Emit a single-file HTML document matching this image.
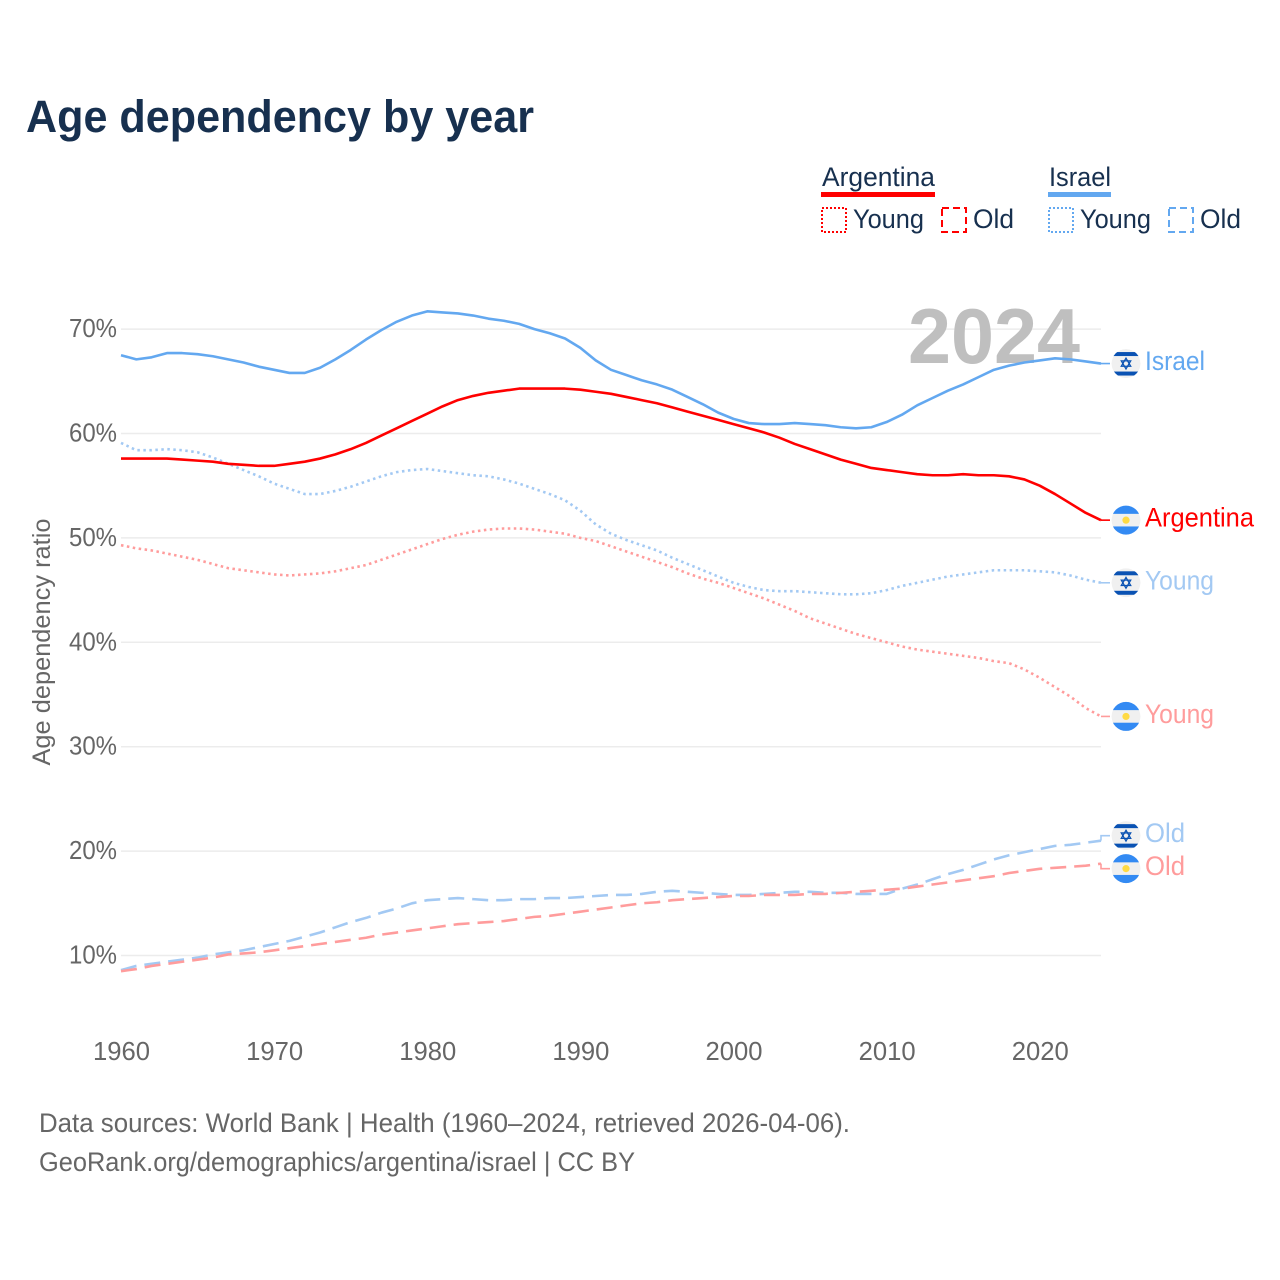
<!DOCTYPE html>
<html lang="en">
<head>
<meta charset="utf-8">
<title>Age dependency by year</title>
<style>
html,body{margin:0;padding:0;background:#fff}
svg{display:block}
text{font-family:"Liberation Sans",Arial,sans-serif}
</style>
</head>
<body>
<svg id="chart" xmlns="http://www.w3.org/2000/svg" width="1280" height="1280" viewBox="0 0 1280 1280">
  <defs>
    <clipPath id="flag-clip"><circle cx="0" cy="0" r="14.5"></circle></clipPath>
  </defs>
  <rect x="0" y="0" width="1280" height="1280" fill="#ffffff"></rect>
  <text x="26" y="132" font-size="45" font-weight="700" fill="#17304f" textLength="508" lengthAdjust="spacingAndGlyphs">Age dependency by year</text>

  <g>
    <text x="822" y="186" font-size="27" fill="#17304f" textLength="113" lengthAdjust="spacingAndGlyphs">Argentina</text>
    <rect x="821" y="192" width="114" height="5" fill="#ff0000"></rect>
    <text x="1049" y="186" font-size="27" fill="#17304f" textLength="62" lengthAdjust="spacingAndGlyphs">Israel</text>
    <rect x="1048" y="192" width="63" height="5" fill="#63a8f0"></rect>

    <rect x="822" y="208" width="24" height="24" fill="none" stroke="#ff0000" stroke-width="2" stroke-dasharray="2 2"></rect>
    <text x="853" y="228" font-size="27" fill="#17304f" textLength="71" lengthAdjust="spacingAndGlyphs">Young</text>
    <rect x="942" y="208" width="24" height="24" fill="none" stroke="#ff0000" stroke-width="2" stroke-dasharray="7 4"></rect>
    <text x="973" y="228" font-size="27" fill="#17304f" textLength="41" lengthAdjust="spacingAndGlyphs">Old</text>

    <rect x="1049" y="208" width="24" height="24" fill="none" stroke="#63a8f0" stroke-width="2" stroke-dasharray="2 2"></rect>
    <text x="1080" y="228" font-size="27" fill="#17304f" textLength="71" lengthAdjust="spacingAndGlyphs">Young</text>
    <rect x="1169" y="208" width="24" height="24" fill="none" stroke="#63a8f0" stroke-width="2" stroke-dasharray="7 4"></rect>
    <text x="1200" y="228" font-size="27" fill="#17304f" textLength="41" lengthAdjust="spacingAndGlyphs">Old</text>
  </g>

  <g id="grid"></g>
  <g id="y-ticks"></g>
  <g id="x-ticks"></g>

  <text x="908" y="363" font-size="78" font-weight="700" fill="#bfbfbf" textLength="172" lengthAdjust="spacingAndGlyphs">2024</text>

  <g id="series"></g>
  <g id="end-labels"></g>

  <text transform="translate(50,642) rotate(-90)" x="0" y="0" font-size="25" fill="#666666" text-anchor="middle" textLength="247" lengthAdjust="spacingAndGlyphs">Age dependency ratio</text>

  <text x="39" y="1132" font-size="27" fill="#666666" textLength="811" lengthAdjust="spacingAndGlyphs">Data sources: World Bank | Health (1960–2024, retrieved 2026-04-06).</text>
  <text x="39" y="1171" font-size="27" fill="#666666" textLength="596" lengthAdjust="spacingAndGlyphs">GeoRank.org/demographics/argentina/israel | CC BY</text>
</svg>

<script>
const startYear = 1960;
const yTickValues = [10, 20, 30, 40, 50, 60, 70];
const xTickYears = [1960, 1970, 1980, 1990, 2000, 2010, 2020];

const israelTotal = [
  67.5,67.1,67.3,67.7,67.7,67.6,67.4,67.1,66.8,66.4,
  66.1,65.8,65.8,66.3,67.1,68.0,69.0,69.9,70.7,71.3,
  71.7,71.6,71.5,71.3,71.0,70.8,70.5,70.0,69.6,69.1,
  68.2,67.0,66.1,65.6,65.1,64.7,64.2,63.5,62.8,62.0,
  61.4,61.0,60.9,60.9,61.0,60.9,60.8,60.6,60.5,60.6,
  61.1,61.8,62.7,63.4,64.1,64.7,65.4,66.1,66.5,66.8,
  67.0,67.2,67.1,66.9,66.7];
const argentinaTotal = [
  57.6,57.6,57.6,57.6,57.5,57.4,57.3,57.1,57.0,56.9,
  56.9,57.1,57.3,57.6,58.0,58.5,59.1,59.8,60.5,61.2,
  61.9,62.6,63.2,63.6,63.9,64.1,64.3,64.3,64.3,64.3,
  64.2,64.0,63.8,63.5,63.2,62.9,62.5,62.1,61.7,61.3,
  60.9,60.5,60.1,59.6,59.0,58.5,58.0,57.5,57.1,56.7,
  56.5,56.3,56.1,56.0,56.0,56.1,56.0,56.0,55.9,55.6,
  55.0,54.2,53.3,52.4,51.7];
const israelYoung = [
  59.1,58.4,58.4,58.5,58.4,58.2,57.7,57.1,56.5,55.9,
  55.2,54.7,54.2,54.2,54.5,54.9,55.4,55.9,56.3,56.5,
  56.6,56.4,56.2,56.0,55.9,55.6,55.2,54.7,54.2,53.6,
  52.6,51.3,50.4,49.8,49.3,48.8,48.1,47.5,46.9,46.3,
  45.7,45.3,45.0,44.9,44.9,44.8,44.7,44.6,44.6,44.7,
  45.0,45.4,45.7,46.0,46.3,46.5,46.7,46.9,46.9,46.9,
  46.8,46.7,46.4,46.0,45.7];
const argentinaYoung = [
  49.3,49.0,48.8,48.5,48.2,47.9,47.5,47.1,46.9,46.7,
  46.5,46.4,46.5,46.6,46.8,47.1,47.4,47.9,48.4,48.9,
  49.4,49.9,50.3,50.6,50.8,50.9,50.9,50.8,50.6,50.4,
  50.0,49.7,49.2,48.7,48.2,47.7,47.2,46.6,46.1,45.7,
  45.2,44.7,44.2,43.6,43.0,42.3,41.8,41.3,40.8,40.4,
  40.0,39.6,39.3,39.1,38.9,38.7,38.5,38.2,38.0,37.4,
  36.6,35.7,34.8,33.7,32.9];
const israelOld = [
  8.6,9.0,9.2,9.4,9.6,9.8,10.1,10.3,10.5,10.8,
  11.1,11.4,11.8,12.2,12.7,13.2,13.6,14.1,14.5,15.0,
  15.3,15.4,15.5,15.4,15.3,15.3,15.4,15.4,15.5,15.5,
  15.6,15.7,15.8,15.8,15.9,16.1,16.2,16.1,16.0,15.9,
  15.8,15.8,15.9,16.0,16.1,16.1,16.0,16.0,15.9,15.9,
  15.9,16.4,16.8,17.3,17.8,18.2,18.7,19.2,19.6,19.9,
  20.2,20.5,20.6,20.8,21.0];
const argentinaOld = [
  8.5,8.7,9.0,9.2,9.4,9.6,9.8,10.1,10.2,10.3,
  10.5,10.7,10.9,11.1,11.3,11.5,11.7,12.0,12.2,12.4,
  12.6,12.8,13.0,13.1,13.2,13.3,13.5,13.7,13.8,14.0,
  14.2,14.4,14.6,14.8,15.0,15.1,15.3,15.4,15.5,15.6,
  15.7,15.7,15.8,15.8,15.8,15.9,15.9,16.0,16.1,16.2,
  16.3,16.4,16.6,16.8,17.0,17.2,17.4,17.6,17.9,18.1,
  18.3,18.4,18.5,18.6,18.8];

const NS = 'http://www.w3.org/2000/svg';
const plotLeft = 121, plotRight = 1101;
const yearSpan = 64;
function xScale(year) { return plotLeft + (year - startYear) * (plotRight - plotLeft) / yearSpan; }
function yScale(v) { return 955.5 - (v - 10) * 10.44; }

function make(tag, attrs, parent) {
  const el = document.createElementNS(NS, tag);
  Object.keys(attrs).forEach(function (k) { el.setAttribute(k, attrs[k]); });
  parent.appendChild(el);
  return el;
}

const gridG = document.getElementById('grid');
const yTickG = document.getElementById('y-ticks');
yTickValues.forEach(function (v) {
  const line = make('line', { x1: plotLeft, x2: plotRight, y1: yScale(v), y2: yScale(v), stroke: '#ececec', 'stroke-width': 1.5 }, gridG);
  
  
  const t = make('text', { x: 117, y: yScale(v) + 8, 'font-size': 26, fill: '#666666', 'text-anchor': 'end', textLength: 48, lengthAdjust: 'spacingAndGlyphs' }, yTickG);
  t.textContent = v + '%';
  
  
});

const xTickG = document.getElementById('x-ticks');
xTickYears.forEach(function (yr) {
  const t = make('text', { x: xScale(yr) + 0.5, y: 1060, 'font-size': 26, fill: '#666666', 'text-anchor': 'middle', textLength: 57, lengthAdjust: 'spacingAndGlyphs' }, xTickG);
  t.textContent = String(yr);
  
  
});

const seriesList = [
  { id: 'israel-old', values: israelOld, color: '#a3c9f3', dash: '16 8', label: 'Old', flag: 'il', w: 40 },
  { id: 'argentina-old', values: argentinaOld, color: '#ff9c9c', dash: '16 8', label: 'Old', flag: 'ar', w: 40 },
  { id: 'israel-young', values: israelYoung, color: '#a3c9f3', dash: '2.5 3.5', label: 'Young', flag: 'il', w: 69 },
  { id: 'argentina-young', values: argentinaYoung, color: '#ff9c9c', dash: '2.5 3.5', label: 'Young', flag: 'ar', w: 69 },
  { id: 'israel-total', values: israelTotal, color: '#63a8f0', dash: '', label: 'Israel', flag: 'il', w: 60 },
  { id: 'argentina-total', values: argentinaTotal, color: '#ff0000', dash: '', label: 'Argentina', flag: 'ar', w: 109 }
];

/* Series end positions, pushed apart so flags do not overlap */
const minGap = 33;
const ends = seriesList.map(function (s) {
  const y = yScale(s.values[s.values.length - 1]);
  return { s: s, y: y, fy: y };
}).sort(function (a, b) { return a.y - b.y; });
for (let pass = 0; pass < 20; pass++) {
  for (let i = 1; i < ends.length; i++) {
    const gap = ends[i].fy - ends[i - 1].fy;
    if (gap < minGap) {
      const push = (minGap - gap) / 2;
      ends[i].fy += push;
      ends[i - 1].fy -= push;
    }
  }
}

const seriesG = document.getElementById('series');
const labelG = document.getElementById('end-labels');

seriesList.forEach(function (s) {
  const d = s.values.map(function (v, i) {
    return (i ? 'L' : 'M') + xScale(startYear + i).toFixed(2) + ' ' + yScale(v).toFixed(2);
  }).join(' ');
  const p = make('path', { d: d, fill: 'none', stroke: s.color, 'stroke-width': 2.6, 'stroke-linejoin': 'round' }, seriesG);
  if (s.dash) p.setAttribute('stroke-dasharray', s.dash);
  
  
});

function drawFlag(group, kind) {
  const clip = make('g', { 'clip-path': 'url(#flag-clip)' }, group);
  make('circle', { cx: 0, cy: 0, r: 14.5, fill: '#f0f0f0' }, clip);
  if (kind === 'ar') {
    make('rect', { x: -15, y: -15, width: 30, height: 8.7, fill: '#338af3' }, clip);
    make('rect', { x: -15, y: 6.3, width: 30, height: 8.7, fill: '#338af3' }, clip);
    make('circle', { cx: 0, cy: 0, r: 3.6, fill: '#ffda44' }, clip);
  } else {
    make('rect', { x: -15, y: -11.5, width: 30, height: 4, fill: '#0a52b3' }, clip);
    make('rect', { x: -15, y: 8, width: 30, height: 4, fill: '#0a52b3' }, clip);
    make('polygon', { points: '0,-5.4 4.7,2.7 -4.7,2.7', fill: 'none', stroke: '#0a52b3', 'stroke-width': 1.3 }, clip);
    make('polygon', { points: '0,5.4 4.7,-2.7 -4.7,-2.7', fill: 'none', stroke: '#0a52b3', 'stroke-width': 1.3 }, clip);
  }
}

ends.forEach(function (e) {
  const s = e.s;
  const conn = make('path', {
    d: 'M' + plotRight + ' ' + e.y.toFixed(2) + ' L' + plotRight + ' ' + e.fy.toFixed(2) + ' L1110 ' + e.fy.toFixed(2),
    fill: 'none', stroke: s.color, 'stroke-width': 1.6
  }, labelG);
  
  

  const flag = make('g', { transform: 'translate(1126,' + e.fy.toFixed(2) + ')' }, labelG);
  
  
  drawFlag(flag, s.flag);

  const t = make('text', { x: 1145, y: (e.fy + 6.5).toFixed(2), 'font-size': 27, fill: s.color, textLength: s.w, lengthAdjust: 'spacingAndGlyphs' }, labelG);
  t.textContent = s.label;
  
  
});
</script>
</body>
</html>
